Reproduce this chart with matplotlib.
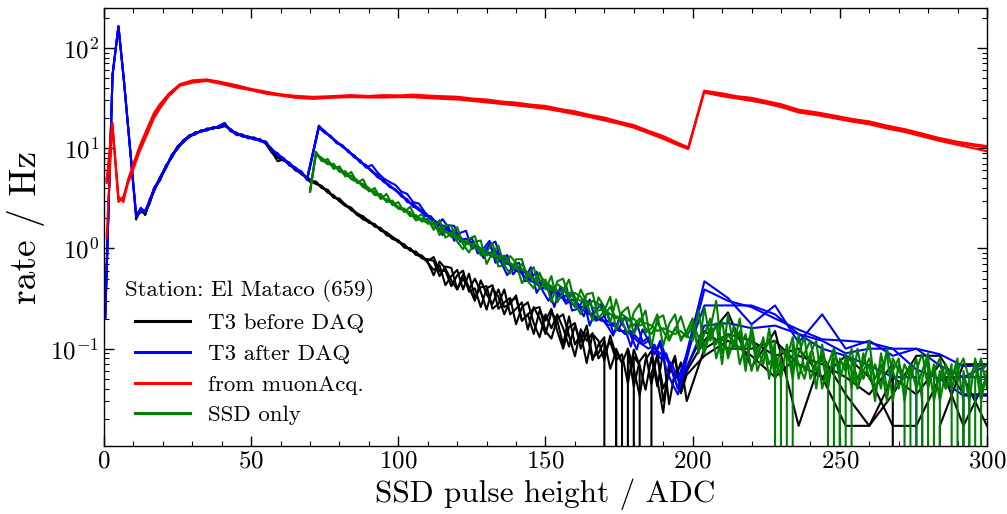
import numpy as np
import matplotlib
matplotlib.use("Agg")
import matplotlib.pyplot as plt
from matplotlib.lines import Line2D
from matplotlib.ticker import LogLocator, MultipleLocator, NullFormatter

plt.rcParams.update({
    "font.family": "serif",
    "font.serif": ["cmr10"],
    "mathtext.fontset": "cm",
    "axes.formatter.use_mathtext": True,
})

# ---------------- T3 before DAQ (black) ----------------
black_head_x = [10.9, 12.5, 14, 15.5, 17, 19, 21, 23, 25, 27, 29, 31, 33, 35, 37,
                39, 41, 43, 45, 47, 49, 51, 53, 55, 57, 59, 61, 63, 65, 67]
black_head = [
    [2.0, 2.4, 2.2, 2.9, 3.8, 4.9, 6.4, 8.4, 10.2, 11.9, 13.2, 14.1, 14.7, 15.4, 15.9,
     16.2, 17.0, 15.2, 14.0, 13.4, 12.9, 12.5, 12.1, 11.2, 9.2, 7.4, 7.7, 6.9, 6.2, 5.6],
    [2.1, 2.3, 2.3, 2.8, 3.95, 4.75, 6.6, 8.1, 10.5, 11.6, 13.5, 13.8, 15.0, 15.1, 16.2,
     15.9, 16.6, 15.5, 13.7, 13.7, 12.6, 12.8, 11.8, 11.5, 9.5, 8.2, 7.5, 7.1, 6.0, 5.7],
    [1.95, 2.5, 2.15, 3.0, 3.7, 5.05, 6.25, 8.6, 10.0, 12.1, 13.0, 14.4, 14.5, 15.7,
     15.6, 16.5, 17.3, 14.9, 14.3, 13.1, 13.1, 12.3, 12.3, 11.0, 9.0, 8.4, 7.9, 6.7,
     6.35, 5.5],
    [2.05, 2.45, 2.25, 2.85, 3.85, 4.95, 6.45, 8.3, 10.3, 11.8, 13.3, 14.0, 14.8, 15.3,
     16.0, 16.1, 16.9, 15.3, 13.9, 13.5, 12.8, 12.6, 12.0, 11.3, 9.3, 8.0, 7.6, 7.0,
     6.1, 5.65],
]
# 70 ... 198 ADC in steps of 2
black_mid = [
    [4.8, 4.6, 4.0, 3.8, 3.25, 3.05, 2.75, 2.4, 2.25, 2.05, 1.8, 1.75, 1.5, 1.45, 1.3,
     1.15, 1.1, 0.95, 0.93, 0.8, 0.78, 0.75, 0.53, 0.66, 0.64, 0.39, 0.5, 0.39, 0.5,
     0.37, 0.245, 0.4, 0.33, 0.22, 0.3, 0.32, 0.19, 0.22, 0.14, 0.24, 0.19, 0.25, 0.15,
     0.1, 0.165, 0.18, 0.1, 0.145, 0.077, 0.11, 0.13, 0.0, 0.1, 0.072, 0.1, 0.042,
     0.075, 0.09, 0.044, 0.09, 0.03, 0.06, 0.085, 0.036, 0.06],
    [4.7, 4.4, 4.2, 3.6, 3.4, 2.95, 2.65, 2.5, 2.15, 2.0, 1.9, 1.65, 1.6, 1.35, 1.3,
     1.2, 1.02, 1.0, 0.86, 0.84, 0.72, 0.61, 0.68, 0.43, 0.53, 0.61, 0.39, 0.56, 0.32,
     0.41, 0.42, 0.25, 0.28, 0.39, 0.22, 0.25, 0.29, 0.155, 0.26, 0.2, 0.14, 0.23,
     0.19, 0.11, 0.21, 0.11, 0.14, 0.072, 0.14, 0.12, 0.076, 0.135, 0.085, 0.0, 0.1,
     0.063, 0.034, 0.078, 0.095, 0.048, 0.023, 0.073, 0.049, 0.073, 0.03],
    [4.9, 4.45, 4.15, 3.65, 3.3, 3.0, 2.7, 2.5, 2.2, 1.95, 1.85, 1.72, 1.52, 1.42,
     1.25, 1.2, 1.05, 0.97, 0.9, 0.8, 0.75, 0.82, 0.59, 0.6, 0.42, 0.54, 0.6, 0.37,
     0.4, 0.26, 0.4, 0.43, 0.25, 0.29, 0.32, 0.175, 0.26, 0.29, 0.18, 0.13, 0.22, 0.16,
     0.22, 0.16, 0.105, 0.17, 0.117, 0.17, 0.083, 0.09, 0.12, 0.063, 0.094, 0.072,
     0.0, 0.084, 0.068, 0.039, 0.082, 0.042, 0.093, 0.028, 0.06, 0.042, 0.065],
    [4.6, 4.65, 4.0, 3.85, 3.2, 3.15, 2.7, 2.55, 2.2, 2.1, 1.85, 1.68, 1.58, 1.42,
     1.24, 1.2, 1.04, 1.0, 0.88, 0.85, 0.73, 0.54, 0.74, 0.63, 0.48, 0.39, 0.55, 0.41,
     0.3, 0.48, 0.35, 0.28, 0.39, 0.26, 0.28, 0.34, 0.19, 0.22, 0.25, 0.26, 0.15,
     0.126, 0.2, 0.22, 0.135, 0.084, 0.156, 0.12, 0.143, 0.08, 0.095, 0.117, 0.077,
     0.088, 0.045, 0.098, 0.068, 0.0, 0.057, 0.084, 0.04, 0.056, 0.081, 0.036, 0.055],
]
# 204 ... 300 ADC in steps of 8
black_tail = [
    [0.12, 0.23, 0.065, 0.15, 0.017, 0.085, 0.035, 0.017, 0.052, 0.035, 0.07, 0.017, 0.052],
    [0.10, 0.14, 0.12, 0.085, 0.10, 0.052, 0.017, 0.017, 0.035, 0.085, 0.085, 0.035, 0.035],
    [0.15, 0.10, 0.10, 0.12, 0.07, 0.052, 0.085, 0.052, 0.017, 0.017, 0.052, 0.052, 0.017],
    [0.085, 0.12, 0.085, 0.052, 0.085, 0.07, 0.052, 0.035, 0.07, 0.0, 0.017, 0.07, 0.07],
]

# ---------------- T3 after DAQ (blue) ----------------
blue_spike_x = [0.4, 2.9, 4.9, 6.8]
blue_spike = [0.2, 54, 164, 46]
blue_head_x = [10.9, 12.5, 14, 15.5, 17, 19, 21, 23, 25, 27, 29, 31, 33, 35, 37, 39,
               41, 43, 45, 47, 49, 51, 53, 55, 57, 59, 61, 63, 65, 67, 69]
blue_head = [
    [2.1, 2.45, 2.3, 3.0, 3.9, 5.0, 6.5, 8.3, 10.0, 11.7, 13.0, 14.0, 14.8, 15.3, 15.8,
     16.4, 17.6, 15.0, 13.8, 13.3, 12.8, 12.4, 12.0, 11.4, 9.7, 8.7, 7.8, 7.0, 6.3,
     5.8, 4.9],
    [2.2, 2.35, 2.4, 2.9, 4.05, 4.85, 6.7, 8.0, 10.3, 11.4, 13.3, 13.7, 15.1, 15.0,
     16.1, 16.1, 17.2, 15.4, 13.5, 13.6, 12.5, 12.7, 11.7, 11.7, 9.4, 8.9, 7.6, 7.2,
     6.1, 5.9, 4.8],
    [2.05, 2.55, 2.25, 3.1, 3.8, 5.15, 6.35, 8.5, 9.8, 11.9, 12.8, 14.3, 14.6, 15.6,
     15.6, 16.7, 17.9, 14.7, 14.1, 13.1, 13.0, 12.2, 12.2, 11.2, 9.9, 8.5, 8.0, 6.8,
     6.45, 5.7, 5.0],
    [2.15, 2.5, 2.35, 2.95, 3.95, 5.05, 6.6, 8.2, 10.1, 11.6, 13.1, 13.9, 14.9, 15.2,
     15.9, 16.3, 17.5, 15.1, 13.9, 13.2, 12.9, 12.3, 12.1, 11.3, 9.6, 8.8, 7.7, 7.1,
     6.2, 5.85, 4.95],
]
# 73 ... 195 ADC in steps of 2
blue_mid = [
    [16.5, 14.8, 12.8, 11.7, 10.3, 9.5, 8.1, 7.6, 6.4, 6.8, 5.7, 5.0, 4.6, 4.3, 3.7,
     3.5, 2.9, 2.8, 2.3, 2.0, 1.67, 1.96, 1.63, 1.19, 1.43, 1.5, 0.99, 1.05, 0.8, 1.09,
     1.17, 0.72, 0.54, 0.68, 0.72, 0.47, 0.5, 0.585, 0.38, 0.3, 0.41, 0.34, 0.43, 0.24,
     0.25, 0.31, 0.17, 0.24, 0.28, 0.17, 0.135, 0.2, 0.16, 0.105, 0.18, 0.117, 0.13,
     0.088, 0.12, 0.081, 0.06, 0.04],
    [16.0, 14.2, 13.3, 11.2, 10.7, 9.1, 8.5, 7.2, 6.8, 5.8, 5.4, 4.6, 4.3, 3.8, 3.5,
     2.9, 2.8, 2.5, 2.1, 2.1, 1.76, 1.36, 1.7, 1.68, 1.17, 1.14, 1.27, 0.89, 1.0, 1.19,
     0.72, 0.76, 0.86, 0.55, 0.66, 0.5, 0.65, 0.36, 0.46, 0.4, 0.26, 0.41, 0.29, 0.375,
     0.28, 0.21, 0.31, 0.19, 0.2, 0.23, 0.144, 0.16, 0.21, 0.135, 0.098, 0.156, 0.12,
     0.088, 0.11, 0.063, 0.045, 0.035],
    [16.8, 14.5, 13.0, 11.6, 10.4, 9.3, 8.4, 7.3, 6.7, 5.9, 5.1, 4.8, 4.1, 3.9, 3.3,
     3.1, 2.6, 2.5, 2.25, 1.95, 1.85, 1.6, 1.5, 1.45, 1.2, 1.25, 1.15, 1.0, 0.9, 1.1,
     0.8, 0.85, 0.75, 0.62, 0.58, 0.58, 0.47, 0.46, 0.44, 0.38, 0.36, 0.35, 0.28, 0.31,
     0.28, 0.24, 0.22, 0.2, 0.2, 0.17, 0.18, 0.15, 0.15, 0.14, 0.12, 0.11, 0.12, 0.1,
     0.09, 0.08, 0.07, 0.05],
    [16.2, 14.6, 13.1, 11.4, 10.6, 9.4, 8.2, 7.5, 6.5, 6.0, 5.2, 4.7, 4.2, 3.8, 3.4,
     3.0, 2.7, 2.4, 2.2, 2.05, 1.8, 1.7, 1.55, 1.4, 1.3, 1.15, 1.1, 1.05, 0.95, 0.9,
     0.95, 0.75, 0.7, 0.68, 0.6, 0.52, 0.55, 0.44, 0.4, 0.42, 0.38, 0.32, 0.34, 0.28,
     0.26, 0.26, 0.23, 0.21, 0.19, 0.19, 0.17, 0.16, 0.14, 0.15, 0.13, 0.11, 0.1, 0.11,
     0.08, 0.09, 0.06, 0.04],
]
# 204 ... 300 ADC in steps of 8
blue_tail = [
    [0.47, 0.32, 0.175, 0.27, 0.115, 0.22, 0.10, 0.12, 0.085, 0.10, 0.068, 0.052, 0.068],
    [0.39, 0.30, 0.26, 0.20, 0.155, 0.124, 0.12, 0.115, 0.10, 0.10, 0.088, 0.067, 0.068],
    [0.27, 0.27, 0.27, 0.22, 0.14, 0.12, 0.09, 0.10, 0.10, 0.062, 0.05, 0.034, 0.034],
    [0.17, 0.18, 0.16, 0.17, 0.14, 0.10, 0.085, 0.068, 0.052, 0.052, 0.0, 0.052, 0.052],
]

# ---------------- from muonAcq. (red) ----------------
red_x = [0.9, 2.8, 4.9, 6.6, 8.2, 10, 12, 14.5, 17, 19, 22, 25.8, 30, 34.9, 39.4, 45,
         50, 55.3, 60, 65, 71, 77, 83.6, 90, 95, 100.6,
         105, 110, 115, 120, 125, 130, 135, 140, 145, 150, 155, 160, 165, 170, 175,
         180, 185, 190, 195, 198.5,
         203.9, 210, 215, 220, 225, 230, 236, 242, 248, 254, 260, 266, 272, 278, 284,
         290, 296, 300]
red_lines = [
    [1.3, 18, 2.9, 3.3, 4.8, 6.6, 9.5, 14.2, 21, 26, 34, 43, 46, 47.6, 45, 41, 38.5,
     35.6, 34, 32.5, 31.7, 32.5, 33, 32.5, 32.8, 33,
     33, 32.5, 32, 31.5, 30.5, 29.5, 28.5, 27.5, 26.5, 25.5, 24, 22.5, 21, 19.5, 18,
     16.5, 14.5, 12.8, 11, 9.9,
     36.6, 34, 32, 30.6, 28.5, 26.5, 23.4, 22, 20.5, 19, 17.9, 16.2, 15, 13.5, 12.2,
     11.2, 10.5, 10.2],
    [4.7, 18, 3.3, 2.9, 4.9, 7.0, 10.3, 15.4, 22.5, 27.5, 35, 43.5, 47.5, 48.5, 46,
     42.5, 39, 36.5, 34.5, 33.3, 32.5, 33.0, 33.8, 33.2, 33.8, 33.6,
     34.2, 33.5, 33.0, 32.6, 31.3, 30.6, 29.2, 28.5, 27.2, 26.4, 24.6, 23.3, 21.5,
     20.2, 18.4, 17.0, 14.9, 13.2, 11.3, 10.2,
     37.5, 35.2, 33.0, 31.8, 29.5, 27.5, 24.2, 22.8, 21.2, 19.6, 18.5, 16.8, 15.5,
     14.0, 12.6, 11.6, 10.9, 10.5],
    [4.5, 17.5, 3.1, 3.1, 4.5, 6.2, 9.1, 13.4, 20.0, 24.8, 33.0, 42.0, 45.0, 46.8,
     44.0, 40.2, 37.8, 34.8, 33.4, 31.8, 31.0, 31.8, 32.3, 32.0, 32.0, 32.3,
     32.2, 31.6, 31.0, 30.6, 29.6, 28.6, 27.6, 26.7, 25.7, 24.7, 23.3, 21.8, 20.4,
     18.9, 17.5, 16.0, 14.1, 12.4, 10.7, 9.8,
     35.8, 33.0, 31.3, 29.6, 27.8, 25.7, 22.7, 21.4, 19.9, 18.4, 17.3, 15.7, 14.5,
     13.1, 11.8, 10.8, 9.9, 9.3],
]

# ---------------- SSD only (green) ----------------
# 70 ... 198 ADC in steps of 2
green_mid = [
    [3.7, 9.0, 7.4, 7.8, 6.2, 6.6, 5.2, 5.8, 4.5, 4.9, 3.7, 4.0, 3.1, 3.5, 2.7, 2.9, 2.3,
     2.6, 2.0, 2.2, 1.76, 1.87, 1.36, 1.72, 1.68, 1.17, 0.98, 1.25, 1.33, 0.85, 0.93,
     1.13, 0.66, 0.68, 0.84, 0.72, 0.45, 0.55, 0.65, 0.39, 0.49, 0.29, 0.47, 0.5,
     0.315, 0.26, 0.39, 0.29, 0.19, 0.325, 0.26, 0.18, 0.31, 0.19, 0.14, 0.23, 0.28,
     0.144, 0.16, 0.22, 0.107, 0.176, 0.22, 0.12, 0.15],
    [3.7, 8.6, 8.0, 6.9, 7.0, 5.8, 5.9, 4.9, 4.6, 4.4, 4.0, 3.4, 3.5, 2.9, 3.0, 2.5, 2.5,
     2.1, 2.15, 1.85, 2.0, 1.53, 1.92, 1.28, 1.4, 1.63, 1.1, 0.91, 1.17, 1.2, 0.7, 0.91,
     1.07, 0.68, 0.56, 0.78, 0.78, 0.47, 0.4, 0.575, 0.39, 0.53, 0.29, 0.37, 0.49,
     0.28, 0.22, 0.35, 0.36, 0.2, 0.24, 0.33, 0.154, 0.23, 0.26, 0.14, 0.185, 0.24,
     0.105, 0.2, 0.215, 0.128, 0.155, 0.21, 0.135],
    [3.7, 9.2, 7.6, 7.0, 6.8, 6.0, 5.4, 5.3, 4.8, 4.1, 3.8, 3.7, 3.2, 3.1, 2.8, 2.5, 2.4,
     2.3, 1.9, 2.0, 1.9, 1.6, 1.6, 1.5, 1.3, 1.35, 1.15, 1.1, 1.1, 0.95, 0.85, 0.9,
     0.78, 0.85, 0.7, 0.62, 0.7, 0.55, 0.48, 0.55, 0.45, 0.38, 0.44, 0.4, 0.32, 0.36,
     0.33, 0.26, 0.3, 0.28, 0.22, 0.26, 0.2, 0.22, 0.2, 0.17, 0.2, 0.16, 0.14, 0.18,
     0.15, 0.12, 0.16, 0.13, 0.14],
    [3.7, 8.8, 7.9, 7.3, 6.5, 6.3, 5.5, 5.0, 4.7, 4.2, 3.9, 3.5, 3.3, 3.0, 2.9, 2.6, 2.4,
     2.2, 2.1, 1.9, 1.8, 1.75, 1.5, 1.45, 1.4, 1.25, 1.2, 1.15, 1.0, 1.0, 0.9, 0.82,
     0.85, 0.75, 0.72, 0.64, 0.62, 0.58, 0.5, 0.48, 0.46, 0.42, 0.38, 0.37, 0.36, 0.32,
     0.3, 0.3, 0.26, 0.24, 0.25, 0.22, 0.21, 0.2, 0.19, 0.2, 0.17, 0.18, 0.17, 0.15,
     0.16, 0.15, 0.14, 0.15, 0.13],
]
# 200 ... 300 ADC in steps of 2
green_tail = [
    [0.2, 0.09, 0.26, 0.12, 0.18, 0.07, 0.22, 0.1, 0.15, 0.06, 0.17, 0.08, 0.13, 0.05,
     0.12, 0.0, 0.1, 0.05, 0.14, 0.06, 0.09, 0.04, 0.11, 0.05, 0.08, 0.0, 0.09, 0.04,
     0.1, 0.05, 0.07, 0.03, 0.09, 0.04, 0.06, 0.08, 0.03, 0.07, 0.0, 0.05, 0.08, 0.03,
     0.06, 0.04, 0.07, 0.0, 0.06, 0.03, 0.08, 0.04, 0.05],
    [0.12, 0.24, 0.1, 0.16, 0.3, 0.09, 0.14, 0.11, 0.2, 0.07, 0.12, 0.1, 0.07, 0.16,
     0.06, 0.1, 0.08, 0.13, 0.05, 0.09, 0.12, 0.06, 0.08, 0.04, 0.1, 0.06, 0.0, 0.08,
     0.05, 0.07, 0.12, 0.04, 0.06, 0.09, 0.03, 0.07, 0.05, 0.0, 0.06, 0.09, 0.04, 0.07,
     0.03, 0.06, 0.05, 0.08, 0.0, 0.05, 0.07, 0.03, 0.06],
    [0.16, 0.1, 0.14, 0.2, 0.08, 0.13, 0.09, 0.17, 0.07, 0.11, 0.14, 0.06, 0.09, 0.12,
     0.05, 0.08, 0.0, 0.11, 0.07, 0.05, 0.09, 0.12, 0.04, 0.07, 0.1, 0.05, 0.08, 0.06,
     0.04, 0.09, 0.05, 0.07, 0.04, 0.1, 0.06, 0.04, 0.07, 0.05, 0.08, 0.03, 0.0, 0.06,
     0.08, 0.04, 0.05, 0.07, 0.03, 0.0, 0.05, 0.08, 0.04],
    [0.18, 0.13, 0.09, 0.15, 0.11, 0.19, 0.08, 0.12, 0.1, 0.14, 0.06, 0.1, 0.12, 0.07,
     0.09, 0.05, 0.11, 0.06, 0.09, 0.13, 0.05, 0.07, 0.09, 0.06, 0.0, 0.08, 0.06, 0.1,
     0.04, 0.06, 0.08, 0.05, 0.07, 0.03, 0.08, 0.06, 0.05, 0.07, 0.04, 0.06, 0.09, 0.0,
     0.05, 0.07, 0.04, 0.06, 0.08, 0.05, 0.0, 0.06, 0.07],
]

legend_title = "Station: El Mataco (659)"
labels = ["T3 before DAQ", "T3 after DAQ", "from muonAcq.", "SSD only"]
colors = ["black", "#0000ff", "#ff0000", "#008000"]


def grid(start, step, values):
    return start + step * np.arange(len(values))


fig = plt.figure(figsize=(10.07, 5.14), dpi=100)
ax = fig.add_axes([0.1033, 0.1323, 0.8768, 0.8521])
lw = 1.5

for head, mid, tail in zip(black_head, black_mid, black_tail):
    x = np.concatenate([black_head_x, grid(70, 2, mid), grid(204, 8, tail)])
    y = np.concatenate([head, mid, tail])
    ax.plot(x, y, color=colors[0], lw=lw)

for head, mid, tail in zip(blue_head, blue_mid, blue_tail):
    x = np.concatenate([blue_spike_x, blue_head_x, grid(73, 2, mid), grid(204, 8, tail)])
    y = np.concatenate([blue_spike, head, mid, tail])
    ax.plot(x, y, color=colors[1], lw=lw)

for vals in red_lines:
    ax.plot(red_x, vals, color=colors[2], lw=lw)

for mid, tail in zip(green_mid, green_tail):
    x = np.concatenate([grid(70, 2, mid), grid(200, 2, tail)])
    y = np.concatenate([mid, tail])
    ax.plot(x, y, color=colors[3], lw=lw)

ax.set_yscale("log")
ax.set_xlim(0, 300)
ax.set_ylim(0.0107, 250)
ax.xaxis.set_major_locator(MultipleLocator(50))
ax.xaxis.set_minor_locator(MultipleLocator(10))
ax.yaxis.set_major_locator(LogLocator(base=10, numticks=10))
ax.yaxis.set_minor_locator(LogLocator(base=10, subs=np.arange(2, 10), numticks=20))
ax.yaxis.set_minor_formatter(NullFormatter())
ax.tick_params(which="both", direction="in", top=True, right=True)
ax.tick_params(which="major", length=7, width=1.0, labelsize=18)
ax.tick_params(which="minor", length=3.5, width=0.8)
for s in ax.spines.values():
    s.set_linewidth(1.0)

ax.set_xlabel("SSD pulse height / ADC", fontsize=22.5)
ax.set_ylabel("rate / Hz", fontsize=27)

handles = [Line2D([], [], color=c, lw=2.2) for c in colors]
leg = ax.legend(handles, labels, title=legend_title, loc="lower left",
                frameon=False, fontsize=16.5, title_fontsize=16.5,
                handlelength=2.4, labelspacing=0.47)

fig.savefig("out.png", dpi=100)
